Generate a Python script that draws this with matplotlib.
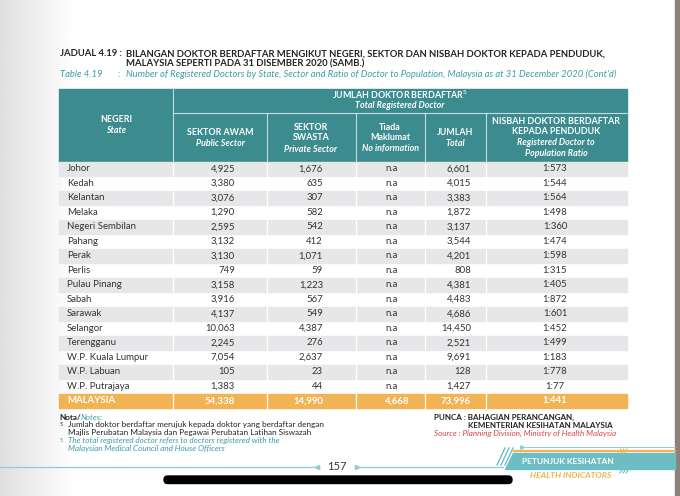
import numpy as np
import matplotlib.pyplot as plt
from matplotlib.patches import Rectangle, Polygon, FancyBboxPatch

states = ['Johor', 'Kedah', 'Kelantan', 'Melaka', 'Negeri Sembilan', 'Pahang', 'Perak',
          'Perlis', 'Pulau Pinang', 'Sabah', 'Sarawak', 'Selangor', 'Terengganu',
          'W.P. Kuala Lumpur', 'W.P. Labuan', 'W.P. Putrajaya']
public = [4925, 3380, 3076, 1290, 2595, 3132, 3130, 749, 3158, 3916, 4137, 10063, 2245, 7054, 105, 1383]
private = [1676, 635, 307, 582, 542, 412, 1071, 59, 1223, 567, 549, 4387, 276, 2637, 23, 44]
no_info = ['n.a'] * 16
total = [6601, 4015, 3383, 1872, 3137, 3544, 4201, 808, 4381, 4483, 4686, 14450, 2521, 9691, 128, 1427]
ratio = ['1:573', '1:544', '1:564', '1:498', '1:360', '1:474', '1:598', '1:315', '1:405',
         '1:872', '1:601', '1:452', '1:499', '1:183', '1:778', '1:77']
my_row = ['MALAYSIA', 54338, 14990, 4668, 73996, '1:441']

TEAL = '#3c8b8f'
TEAL_TXT = '#3a9ea6'
LOGO = '#6dbec4'
ORANGE = '#f1b354'
GREY = '#e7e7e9'
TXT = '#333333'
FONT = 'Lato'

fig = plt.figure(figsize=(6.8, 4.96), dpi=100)
ax = fig.add_axes([0, 0, 1, 1])
ax.set_xlim(0, 680)
ax.set_ylim(496, 0)
ax.axis('off')

# page shading on the left, page edge on the right
grad = np.linspace(0.80, 1.0, 200) ** 0.6
ax.imshow(np.tile(grad, (2, 1)), cmap='gray', vmin=0, vmax=1, extent=[0, 75, 496, 0],
          aspect='auto', zorder=0)
ax.add_patch(Rectangle((675, 0), 5, 496, color='#8c827a', zorder=1))

# titles
tt = dict(fontsize=6.8, fontweight='bold', color='#222222', family=FONT, va='center')
ax.text(60, 54, 'JADUAL 4.19 :', **tt)
ax.text(126, 54, 'BILANGAN DOKTOR BERDAFTAR MENGIKUT NEGERI, SEKTOR DAN NISBAH DOKTOR KEPADA PENDUDUK,', **tt)
ax.text(126, 63.5, 'MALAYSIA SEPERTI PADA 31 DISEMBER 2020 (SAMB.)', **tt)
ti = dict(fontsize=6.75, style='italic', color=TEAL_TXT, family=FONT, va='center')
ax.text(60, 74.5, 'Table 4.19', **ti)
ax.text(118, 74.5, ':', **ti)
ax.text(126, 74.5, "Number of Registered Doctors by State, Sector and Ratio of Doctor to Population, "
        "Malaysia as at 31 December 2020 (Cont'd)", **ti)

# table geometry
edges = [59, 173, 267, 356, 425, 486, 627]
h_top, h_mid, h_bot = 88.5, 113, 161.5
row_h = 14.5

# header
ax.add_patch(Rectangle((edges[0], h_top), edges[-1] - edges[0], h_bot - h_top, color=TEAL, zorder=2))
ax.plot([edges[1], edges[-1]], [h_mid, h_mid], color='white', lw=0.8, alpha=0.7, zorder=3)
ax.plot([edges[1], edges[1]], [h_top, h_bot], color='white', lw=0.8, alpha=0.7, zorder=3)
for x in edges[2:-1]:
    ax.plot([x, x], [h_mid, h_bot], color='white', lw=0.8, alpha=0.7, zorder=3)

hb = dict(fontsize=6.4, fontweight='bold', color='white', family=FONT, ha='center', va='center', zorder=4)
hi = dict(fontsize=6.4, fontweight='bold', style='italic', color='white', family=FONT, ha='center',
          va='center', zorder=4)
ax.text(116, 120, 'NEGERI', **hb)
ax.text(116, 130.5, 'State', **hi)
ax.text(400, 95, 'JUMLAH DOKTOR BERDAFTAR$^5$', **hb)
ax.text(400, 105, 'Total Registered Doctor', **hi)
ax.text(220, 132.5, 'SEKTOR AWAM', **hb)
ax.text(220, 143.5, 'Public Sector', **hi)
ax.text(311, 127, 'SEKTOR', **hb)
ax.text(311, 138, 'SWASTA', **hb)
ax.text(311, 149, 'Private Sector', **hi)
ax.text(390, 127, 'Tiada', **hb)
ax.text(390, 138, 'Maklumat', **hb)
ax.text(390, 149, 'No information', **hi)
ax.text(455, 132.5, 'JUMLAH', **hb)
ax.text(455, 143.5, 'Total', **hi)
ax.text(556, 121.5, 'NISBAH DOKTOR BERDAFTAR', **hb)
ax.text(556, 132, 'KEPADA PENDUDUK', **hb)
ax.text(556, 142.5, 'Registered Doctor to', **hi)
ax.text(556, 153, 'Population Ratio', **hi)

# body rows
cell = dict(fontsize=6.9, color=TXT, family=FONT, va='center', zorder=4)
for i, name in enumerate(states):
    y0 = h_bot + i * row_h
    yc = y0 + row_h / 2
    if i % 2 == 0:
        ax.add_patch(Rectangle((edges[0], y0), edges[-1] - edges[0], row_h, color=GREY, zorder=2))
    ax.text(67, yc, name, ha='left', **cell)
    ax.text(235, yc, f'{public[i]:,}', ha='right', **cell)
    ax.text(323, yc, f'{private[i]:,}', ha='right', **cell)
    ax.text(392, yc, no_info[i], ha='center', **cell)
    ax.text(471, yc, f'{total[i]:,}', ha='right', **cell)
    ax.text(555, yc, ratio[i], ha='center', **cell)

# column separators in the body
body_bot = h_bot + len(states) * row_h
for x in edges[1:-1]:
    ax.plot([x, x], [h_bot, body_bot + row_h], color='white', lw=0.9, zorder=3)

# MALAYSIA total row
y0 = body_bot
yc = y0 + row_h / 2
ax.add_patch(Rectangle((edges[0], y0), edges[-1] - edges[0], row_h, color=ORANGE, zorder=2))
tb = dict(fontsize=6.9, fontweight='bold', color='white', family=FONT, va='center', zorder=4)
ax.text(67, yc, my_row[0], ha='left', **tb)
ax.text(235, yc, f'{my_row[1]:,}', ha='right', **tb)
ax.text(323, yc, f'{my_row[2]:,}', ha='right', **tb)
ax.text(409, yc, f'{my_row[3]:,}', ha='right', **tb)
ax.text(471, yc, f'{my_row[4]:,}', ha='right', **tb)
ax.text(555, yc, my_row[5], ha='center', **tb)

# notes
ny = body_bot + row_h + 9
nota = ax.text(59, ny, 'Nota/', fontsize=5.9, fontweight='bold', color='#222222', family=FONT, va='center')
ax.annotate('Notes:', xy=(1, 0.5), xycoords=nota, fontsize=5.9, style='italic', color=TEAL_TXT,
            family=FONT, va='center', ha='left')
nk = dict(fontsize=5.9, family=FONT, va='center')
ax.text(60, ny + 7, '5', color='#222222', fontsize=3.8, family=FONT, va='center')
ax.text(68, ny + 8, 'Jumlah doktor berdaftar merujuk kepada doktor yang berdaftar dengan', color='#222222', **nk)
ax.text(68, ny + 16, 'Majlis Perubatan Malaysia dan Pegawai Perubatan Latihan Siswazah', color='#222222', **nk)
ax.text(60, ny + 23, '5', color=TEAL_TXT, fontsize=3.8, family=FONT, va='center')
ax.text(68, ny + 24, 'The total registered doctor refers to doctors registered with the',
        color=TEAL_TXT, style='italic', **nk)
ax.text(68, ny + 32, 'Malaysian Medical Council and House Officers', color=TEAL_TXT, style='italic', **nk)

# source
sk = dict(fontsize=5.8, family=FONT, va='center')
ax.text(434, ny, 'PUNCA : BAHAGIAN PERANCANGAN,', fontweight='bold', color='#222222', **sk)
ax.text(468, ny + 8, 'KEMENTERIAN KESIHATAN MALAYSIA', fontweight='bold', color='#222222', **sk)
ax.text(434, ny + 16, 'Source : Planning Division, Ministry of Health Malaysia', style='italic',
        color='#d9443f', **sk)

# footer: page number line
fy = 467
ax.plot([0, 317], [fy, fy], color='#8ccdd0', lw=0.9)
ax.plot([357, 503], [fy, fy], color='#8ccdd0', lw=0.9)
ax.plot([317], [fy], marker='<', color='#8ccdd0', ms=3)
ax.plot([357], [fy], marker='>', color='#8ccdd0', ms=3)
ax.text(337, fy, '157', fontsize=8, color='#333333', family=FONT, ha='center', va='center')
ax.add_patch(FancyBboxPatch((164, 476), 348, 7.5, boxstyle='round,pad=0,rounding_size=3.7',
                            color='black', zorder=5))

# footer logo
ax.add_patch(Polygon([[513, 453], [675, 453], [675, 469], [505, 469]], closed=True, color=LOGO, zorder=3))
ax.plot([522, 675], [447, 447], color='#8ccdd0', lw=0.7, zorder=3)
ax.plot([522], [447], marker='>', color='#8ccdd0', ms=2.5, zorder=3)
ax.plot([514, 675], [451, 451], color=ORANGE, lw=1.6, zorder=3)
for k in range(3):
    ax.plot([497 + k * 4, 505 + k * 4], [465, 448], color=LOGO, lw=1.0, zorder=3)
    ax.plot([618 + k * 3, 621 + k * 3], [453, 449], color=ORANGE, lw=0.8, zorder=4)
    ax.plot([620 + k * 3, 623 + k * 3], [473, 469], color=LOGO, lw=0.8, zorder=4)
ax.text(568, 461.5, 'PETUNJUK KESIHATAN', fontsize=6.0, fontweight='bold', color='white', family=FONT,
        ha='center', va='center', zorder=4)
ax.text(571, 475, 'HEALTH INDICATORS', fontsize=6.1, fontweight='bold', style='italic', color=ORANGE,
        family=FONT, ha='center', va='center', zorder=4)

fig.savefig('out.png', dpi=100)
